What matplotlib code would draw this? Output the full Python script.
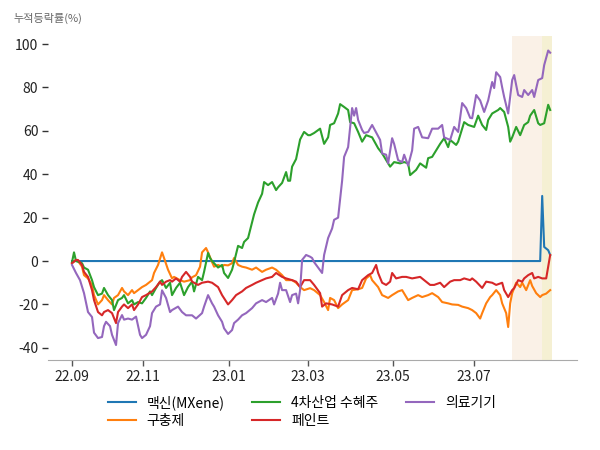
import matplotlib
matplotlib.use("Agg")
import matplotlib.pyplot as plt

plt.rcParams['font.family'] = ['Noto Sans CJK KR', 'DejaVu Sans']
plt.rcParams['axes.unicode_minus'] = False

# --- 데이터 (거래일 인덱스, 누적등락률 %) ---
tick_pos = [0, 35.5, 78.5, 118, 160.5, 201]
tick_labels = ['22.09', '22.11', '23.01', '23.03', '23.05', '23.07']

mxene_x = [0, 234, 235, 236, 238, 239]
mxene_y = [0, 0, 30, 6.5, 5, 2.8]

anti_x = [0, 2, 3, 5, 6, 8, 10, 11, 13, 15, 16, 18, 20, 21, 23, 25, 26, 28, 30, 31,
          33, 35, 37, 40, 41, 43, 45, 46, 48, 50, 51, 54, 56, 59, 60, 62, 64, 65, 67, 68,
          70, 71, 73, 75, 76, 78, 80, 81, 83, 85, 87, 90, 92, 95, 97, 100, 102, 105, 107, 110,
          112, 114, 116, 119, 121, 124, 126, 128, 129, 131, 133, 135, 138, 140, 143, 145, 147, 149, 150, 153,
          155, 158, 160, 163, 165, 168, 170, 173, 175, 178, 180, 183, 185, 188, 190, 193, 195, 198, 200, 202,
          204, 205, 207, 209, 210, 212, 214, 215, 217, 218, 219, 220, 222, 224, 225, 227, 229, 230, 232, 234,
          235, 237, 239]
anti_y = [-1, 0.5, 0, -2.6, -6.5, -8, -11, -15.7, -20, -18, -15.7, -18, -20, -17, -15.7, -12.4, -14, -15.7, -13.4, -14.8,
          -13.4, -12, -11, -8.8, -5.5, -1.8, 4, 1.4, -4, -8, -7.3, -8.8, -9.5, -8.8, -7.5, -6.5, -2.6, 4, 6, 4,
          -0.5, -2.6, -1.8, -2.6, -1.8, -2, -1, 1.4, -1.8, -2.6, -3, -4, -3, -5, -4, -3, -4, -6.5, -8.8, -8.8,
          -10, -12, -13.4, -12.5, -13.4, -15.7, -18.9, -22.6, -17, -18, -21.7, -20, -18, -13.4, -13, -12.4, -8, -6.5, -8.8, -12,
          -15.7, -17, -15.7, -14, -13.4, -18, -17, -15.7, -16.6, -15.7, -14.8, -16.6, -18.9, -19.5, -20, -20.2, -21, -21.7, -22.6, -24,
          -26.5, -24, -19.5, -16.6, -15.7, -13.4, -15.7, -19.5, -24, -30.4, -19.5, -14.8, -10, -12, -10, -13.4, -8.8, -11.5, -14.8, -16.6,
          -15.7, -15, -13.4]

ind4_x = [0, 1, 2, 5, 6, 8, 10, 11, 13, 15, 16, 18, 20, 21, 23, 25, 26, 28, 30, 31,
          33, 35, 37, 39, 40, 42, 44, 45, 47, 49, 50, 52, 54, 56, 58, 60, 61, 63, 65, 66,
          68, 69, 70, 73, 75, 76, 78, 80, 81, 83, 85, 86, 88, 90, 91, 93, 95, 96, 98, 100,
          102, 103, 105, 107, 108, 109, 110, 112, 114, 116, 118, 119, 121, 124, 126, 128, 129, 131, 133, 134,
          136, 138, 139, 141, 143, 145, 147, 150, 153, 155, 158, 159, 161, 164, 166, 168, 169, 172, 174, 177,
          178, 180, 183, 184, 186, 188, 189, 192, 193, 196, 198, 201, 203, 205, 207, 208, 210, 213, 214, 216,
          218, 219, 220, 222, 224, 226, 228, 229, 231, 233, 234, 236, 238, 239]
ind4_y = [-0.5, 4, 0, -1, -3, -4, -8.8, -12, -15.7, -15, -12.4, -15.7, -18, -22.6, -18, -17, -15.7, -19.5, -18, -20,
          -18.9, -19.5, -17, -14, -15.7, -12.4, -9.5, -8.8, -12.4, -10, -15.7, -12.4, -10, -15.7, -12, -9.5, -14, -7.3, -8.8, -5,
          3.7, 1.4, 0, -3, -1.8, -5.5, -7.8, -4, -0.5, 7, 6, 8.8, 10.6, 18, 21.5, 27, 31, 36.4, 35, 36.4,
          32.7, 34, 36, 41, 37, 37, 43.5, 47, 56, 59.5, 58, 58, 59, 61, 54, 57, 62.7, 63.5, 68, 72.3,
          71, 69.6, 64, 63.5, 59.5, 55, 58, 57, 52, 49.6, 45, 43.5, 45.6, 45, 45.6, 45, 39.6, 42, 45, 43,
          47.4, 48, 52.5, 54, 56.6, 52.5, 55.8, 53.5, 55, 64, 62.7, 61.8, 67, 62.7, 60.4, 65, 68, 69.6, 70.5, 68.7,
          61.8, 55, 57, 61.8, 58, 62.7, 64, 67, 69.6, 63.5, 62.7, 63.5, 72, 69.6]

paint_x = [0, 2, 3, 5, 6, 8, 10, 11, 13, 15, 16, 18, 20, 22, 23, 25, 26, 28, 30, 31,
           33, 35, 37, 40, 42, 44, 45, 47, 49, 50, 52, 54, 55, 57, 59, 60, 63, 65, 68, 70,
           73, 75, 78, 80, 82, 85, 87, 90, 92, 95, 97, 100, 102, 105, 107, 110, 112, 114, 116, 119,
           121, 124, 125, 127, 130, 133, 135, 138, 140, 143, 145, 148, 150, 152, 153, 155, 157, 159, 160, 162,
           165, 167, 170, 174, 176, 179, 181, 184, 186, 189, 191, 194, 196, 199, 200, 202, 205, 207, 210, 212,
           215, 216, 218, 220, 221, 223, 225, 226, 228, 230, 231, 233, 235, 237, 238, 239]
paint_y = [-1, 0.5, 0.5, -1.8, -5, -7.3, -13.4, -18, -23.5, -25, -23.5, -22.6, -24, -28.6, -23.5, -21, -20, -21.7, -20, -22.6,
           -20, -16.6, -15.7, -14, -12, -9.5, -11, -9.5, -8.8, -9.5, -8, -9.5, -7.3, -5, -7.3, -9.5, -11, -10, -9.5, -10,
           -12, -15.7, -20, -18, -15.7, -14, -12.4, -11, -10, -8.8, -8, -7.3, -5.5, -7.3, -8, -8.8, -9.5, -12, -8.8, -8.8,
           -11, -14.8, -21, -19.5, -20, -21, -15.7, -13.4, -12.4, -13, -8.8, -6.5, -5.5, -1.8, -5.5, -10, -11, -9.5, -5.5, -8,
           -7.3, -7.3, -8, -7.3, -8.8, -11, -11, -10, -12, -9.5, -8.8, -8.8, -8, -8.8, -8, -9.5, -12.4, -9.5, -10, -11,
           -10, -13.4, -16.6, -13.4, -12.5, -8.8, -9.5, -8, -6.5, -5.5, -8, -7.3, -8, -8, -2.6, 2.8]

med_x = [0, 2, 4, 6, 8, 10, 11, 13, 15, 16, 17, 19, 20, 22, 23, 25, 26, 28, 30, 32,
         34, 35, 37, 39, 40, 42, 44, 45, 47, 49, 50, 53, 55, 57, 60, 62, 65, 66, 68, 70,
         71, 73, 75, 76, 78, 80, 81, 83, 85, 87, 90, 92, 95, 97, 100, 101, 103, 104, 105, 107,
         109, 110, 112, 113, 114, 115, 117, 119, 120, 121, 123, 125, 126, 128, 130, 131, 133, 135, 136, 138,
         140, 141, 142, 143, 145, 146, 148, 150, 151, 154, 155, 157, 158, 160, 161, 163, 165, 166, 168, 170,
         171, 173, 175, 178, 180, 183, 185, 186, 189, 191, 193, 195, 197, 199, 200, 202, 204, 206, 208, 210,
         211, 212, 214, 215, 216, 218, 220, 221, 223, 225, 226, 228, 230, 231, 233, 235, 236, 238, 239]
med_y = [-1.8, -5.5, -8.8, -14.8, -23.5, -25.8, -33, -35.5, -35, -30, -28, -30, -34, -38.7, -28.6, -24.9, -27, -26.5, -27, -25.6,
         -34, -35.5, -34, -30, -24, -21, -20, -13.5, -17, -23.5, -22.6, -21, -23.5, -25, -25, -26.5, -24, -21, -15.7, -19.5,
         -21, -25, -28, -31, -33.6, -31.8, -28.6, -27, -25, -24, -21.7, -19.5, -18, -18.9, -17, -20, -15, -10, -13.4, -13.4,
         -18.9, -15.7, -15, -19.5, -13.4, 0.5, 2.8, 2, 1.4, -0.5, -3, -5.5, 2.8, 10.6, 15, 19, 20, 37, 48, 52.5,
         70.5, 67, 70.5, 65, 60.4, 59, 59.5, 62.7, 61, 55.8, 49.6, 49, 45, 56.6, 54, 46.5, 45.6, 49, 44, 51,
         61, 61.8, 57, 56.6, 61, 61, 62.7, 57, 55.8, 61.8, 59.5, 72.8, 70.5, 66, 65.8, 76.5, 74, 68.7, 74, 82.5,
         79.7, 87, 84.8, 80, 75.6, 68, 83.4, 85.7, 76.5, 75.6, 78.8, 76.5, 78.8, 75.6, 83.4, 84.3, 90.3, 97, 96]

series = [
    ('맥신(MXene)', mxene_x, mxene_y, '#1f77b4'),
    ('구충제', anti_x, anti_y, '#ff7f0e'),
    ('4차산업 수혜주', ind4_x, ind4_y, '#2ca02c'),
    ('페인트', paint_x, paint_y, '#d62728'),
    ('의료기기', med_x, med_y, '#9467bd'),
]

fig = plt.figure(figsize=(6, 4.5), dpi=100)
ax = fig.add_axes([0.08, 0.2, 0.882, 0.72])

# 최근 구간 음영
ax.axvspan(220, 235, color='#faf1e7', lw=0, zorder=0)
ax.axvspan(235, 240, color='#f5f0d3', lw=0, zorder=0)

for name, xs, ys, c in series:
    ax.plot(xs, ys, color=c, lw=1.5, label=name)

ax.set_xlim(-12, 252.5)
ax.set_ylim(-45.6, 103.7)
ax.set_yticks([-40, -20, 0, 20, 40, 60, 80, 100])
ax.set_xticks(tick_pos)
ax.set_xticklabels(tick_labels)

for s in ['top', 'right', 'left']:
    ax.spines[s].set_visible(False)
ax.spines['bottom'].set_color('#aaaaaa')
ax.tick_params(axis='y', length=4, width=1, color='#333333', labelsize=10, labelcolor='#222222', pad=3)
ax.tick_params(axis='x', length=4, width=1, color='#555555', labelsize=10, labelcolor='#222222', pad=3)

fig.text(0.022, 0.972, '누적등락률(%)', fontsize=8, color='#666666', va='top', ha='left')

ax.legend(loc='upper center', bbox_to_anchor=(0.48, -0.07), ncol=3, frameon=False,
          fontsize=10, labelspacing=0.3)

plt.savefig('out.png', dpi=100)
